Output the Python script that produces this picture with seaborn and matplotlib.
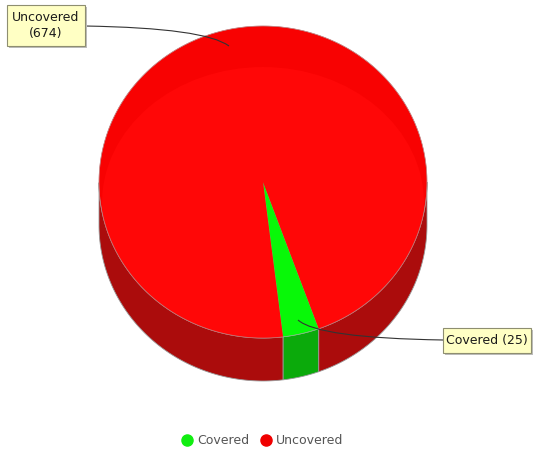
import numpy as np
import matplotlib
matplotlib.use("Agg")
import matplotlib.pyplot as plt
from matplotlib.patches import Polygon, Rectangle, Ellipse, PathPatch
from matplotlib.path import Path
from matplotlib.lines import Line2D
import seaborn as sns

# Coverage counts
categories = ["Covered", "Uncovered"]
counts = [25, 674]
top_colors = ["#08F808", "#F80202"]
side_colors = ["#0BAA0B", "#AB0C0C"]

sns.set_theme(style="white")
plt.rcParams["font.family"] = ["DejaVu Sans"]

fig = plt.figure(figsize=(5.33, 4.49), dpi=100)
ax = fig.add_axes([0, 0, 1, 1])
ax.set_xlim(0, 533)
ax.set_ylim(449, 0)
ax.axis("off")

# pie geometry (screen units)
cx, cy, rx, ry, depth = 263, 182, 164, 156, 43
start_angle = -83.0

vals = np.array(counts, dtype=float)
fracs = vals / vals.sum()
bounds = start_angle + 360 * np.concatenate([[0], np.cumsum(fracs)])


def pt(t_deg, dy=0.0):
    t = np.radians(t_deg)
    return cx + rx * np.cos(t), cy - ry * np.sin(t) + dy


# side walls of the visible (front) half
for i in range(len(vals)):
    t = np.linspace(bounds[i], bounds[i + 1], 600)
    vis = np.sin(np.radians(t)) < 0
    runs = []
    cur = []
    for tt, v in zip(t, vis):
        if v:
            cur.append(tt)
        elif cur:
            runs.append(cur)
            cur = []
    if cur:
        runs.append(cur)
    for run in runs:
        run = np.array(run)
        xs, ys = pt(run)
        xb, yb = pt(run[::-1], depth)
        poly = np.column_stack([np.concatenate([xs, xb]), np.concatenate([ys, yb])])
        ax.add_patch(Polygon(poly, closed=True, facecolor=side_colors[i],
                             edgecolor="#9a9a9a", linewidth=0.6, zorder=2))

# top faces
tops = []
for i in range(len(vals)):
    t = np.linspace(bounds[i], bounds[i + 1], 600)
    xs, ys = pt(t)
    poly = np.column_stack([np.concatenate([[cx], xs]), np.concatenate([[cy], ys])])
    tops.append(Polygon(poly, closed=True, facecolor=top_colors[i],
                        edgecolor="#d05050" if i == 1 else "#50d050",
                        linewidth=0.4, zorder=3))

ax.add_patch(tops[1])
glow = Ellipse((263, 203), 322, 272, facecolor="#FF0707", edgecolor="none", zorder=3.5)
ax.add_patch(glow)
glow.set_clip_path(tops[1])
ax.add_patch(tops[0])

# outline of the top rim
tt = np.linspace(0, 360, 720)
xr, yr = pt(tt)
ax.plot(xr, yr, color="#b0b0b0", lw=0.5, alpha=0.6, zorder=4)


def label_box(x0, y0, w, h, lines):
    ax.add_patch(Rectangle((x0 + 2, y0 + 2), w, h, facecolor="#bdbdbd",
                           edgecolor="none", zorder=5))
    ax.add_patch(Rectangle((x0, y0), w, h, facecolor="#FFFFC4",
                           edgecolor="#8e8e70", linewidth=0.8, zorder=6))
    ax.text(x0 + w / 2, y0 + h / 2, lines, ha="center", va="center",
            fontsize=9, color="#1a1a1a", linespacing=1.25, zorder=7)


def leader(p0, c, p1):
    path = Path([p0, c, p1], [Path.MOVETO, Path.CURVE3, Path.CURVE3])
    ax.add_patch(PathPatch(path, facecolor="none", edgecolor="#333333",
                           linewidth=0.8, zorder=4.5))


leader((85, 26), (205, 28), (229, 46))
label_box(7, 5, 78, 41, f"{categories[1]}\n({counts[1]})")

leader((443, 340), (318, 338), (298, 320))
label_box(443, 328, 88, 25, f"{categories[0]} ({counts[0]})")

# legend
handles = [Line2D([], [], marker="o", linestyle="none", markersize=8,
                  markerfacecolor=c, markeredgecolor=c)
           for c in ["#11EE11", "#F00000"]]
leg = fig.legend(handles, categories, loc="center", ncol=2,
                 bbox_to_anchor=(262 / 533, 1 - 441 / 449), frameon=False,
                 fontsize=9, handletextpad=0.3, columnspacing=0.8,
                 handlelength=1.0)
for txt in leg.get_texts():
    txt.set_color("#555555")

fig.savefig("out.png", dpi=100)
